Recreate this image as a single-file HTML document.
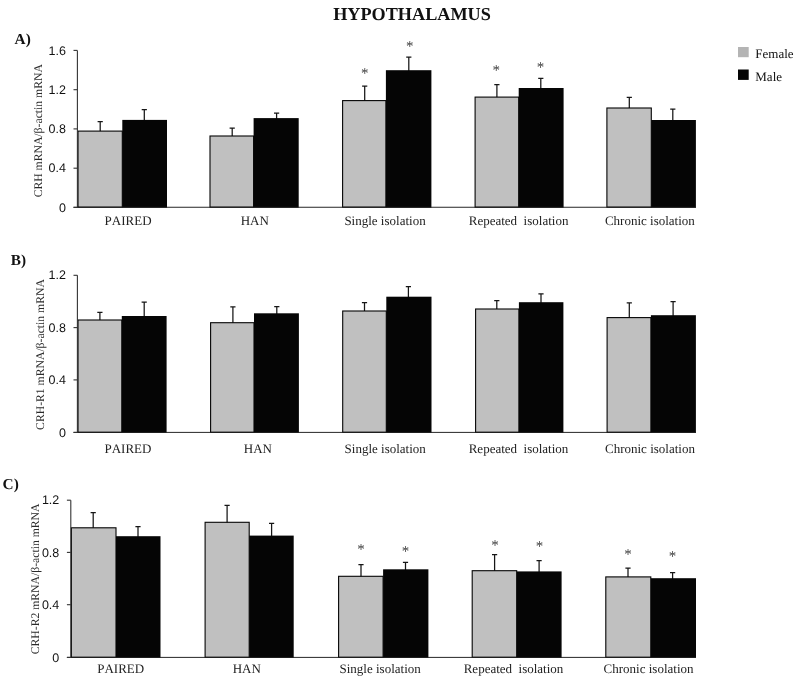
<!DOCTYPE html>
<html><head><meta charset="utf-8"><title>Hypothalamus</title>
<style>
html,body{margin:0;padding:0;background:#fff;}
body{width:800px;height:683px;overflow:hidden;font-family:"Liberation Serif",serif;}
svg{display:block;will-change:transform;filter:grayscale(1);}
text{font-kerning:none;font-variant-ligatures:none;text-rendering:geometricPrecision;}
.cat{font-family:"Liberation Serif",serif;font-size:13px;fill:#222;}
.tick{font-family:"Liberation Sans",sans-serif;font-size:12.5px;fill:#111;}
.ylab{font-family:"Liberation Serif",serif;font-size:11.7px;fill:#2a2a2a;}
.tag{font-family:"Liberation Serif",serif;font-size:15.3px;font-weight:bold;fill:#111;}
.title{font-family:"Liberation Serif",serif;font-size:18.2px;font-weight:bold;fill:#111;}
.ast{font-family:"Liberation Serif",serif;font-size:15.0px;fill:#3a3a3a;}
.leg{font-family:"Liberation Serif",serif;font-size:13px;fill:#111;}
</style></head><body>
<svg width="800" height="683" viewBox="0 0 800 683">
<rect width="800" height="683" fill="#ffffff"/>
<text class="title" x="333.2" y="19.8">HYPOTHALAMUS</text>
<rect x="738" y="47" width="10.7" height="10.2" fill="#b4b4b4"/>
<rect x="738" y="69.5" width="10.7" height="10.4" fill="#050505"/>
<text class="leg" x="755.3" y="57.9">Female</text>
<text class="leg" x="755.3" y="80.9">Male</text>

<g id="panelA">
<path d="M100.20 131.8V121.60M97.60 121.60H102.80" stroke="#161616" stroke-width="1.25" fill="none"/>
<path d="M144.30 120.9V109.70M141.70 109.70H146.90" stroke="#161616" stroke-width="1.25" fill="none"/>
<rect x="78.00" y="131.10" width="44.30" height="76.05" fill="#c0c0c0" stroke="#050505" stroke-width="1.1"/>
<rect x="122.30" y="119.90" width="44.70" height="87.80" fill="#050505"/>
<path d="M232.20 136.7V128.10M229.60 128.10H234.80" stroke="#161616" stroke-width="1.25" fill="none"/>
<path d="M276.60 119.1V113.00M274.00 113.00H279.20" stroke="#161616" stroke-width="1.25" fill="none"/>
<rect x="210.00" y="136.00" width="43.60" height="71.15" fill="#c0c0c0" stroke="#050505" stroke-width="1.1"/>
<rect x="253.60" y="118.10" width="45.10" height="89.60" fill="#050505"/>
<path d="M364.70 101.3V86.20M362.10 86.20H367.30" stroke="#161616" stroke-width="1.25" fill="none"/>
<path d="M408.80 71.2V57.20M406.20 57.20H411.40" stroke="#161616" stroke-width="1.25" fill="none"/>
<rect x="342.60" y="100.60" width="43.30" height="106.55" fill="#c0c0c0" stroke="#050505" stroke-width="1.1"/>
<rect x="385.90" y="70.20" width="45.50" height="137.50" fill="#050505"/>
<text class="ast" text-anchor="middle" x="364.80" y="78.34">*</text>
<text class="ast" text-anchor="middle" x="409.80" y="51.24">*</text>
<path d="M496.90 97.8V84.50M494.30 84.50H499.50" stroke="#161616" stroke-width="1.25" fill="none"/>
<path d="M540.80 89.0V78.30M538.20 78.30H543.40" stroke="#161616" stroke-width="1.25" fill="none"/>
<rect x="475.10" y="97.10" width="43.60" height="110.05" fill="#c0c0c0" stroke="#050505" stroke-width="1.1"/>
<rect x="518.70" y="88.00" width="44.90" height="119.70" fill="#050505"/>
<text class="ast" text-anchor="middle" x="496.30" y="74.74">*</text>
<text class="ast" text-anchor="middle" x="540.50" y="72.44">*</text>
<path d="M629.30 108.7V97.40M626.70 97.40H631.90" stroke="#161616" stroke-width="1.25" fill="none"/>
<path d="M672.80 121.0V109.20M670.20 109.20H675.40" stroke="#161616" stroke-width="1.25" fill="none"/>
<rect x="606.90" y="108.00" width="44.40" height="99.15" fill="#c0c0c0" stroke="#050505" stroke-width="1.1"/>
<rect x="651.30" y="120.00" width="44.60" height="87.70" fill="#050505"/>
<path d="M77.4 50.4V207.4" stroke="#333" stroke-width="1.1" fill="none"/>
<path d="M73.5 207.25H696" stroke="#1a1a1a" stroke-width="0.95" fill="none"/>
<path d="M73.5 207.4H77.4" stroke="#333" stroke-width="1.1" fill="none"/>
<text class="tick" text-anchor="end" x="65.9" y="211.55">0</text>
<path d="M73.5 168.2H77.4" stroke="#333" stroke-width="1.1" fill="none"/>
<text class="tick" text-anchor="end" x="65.9" y="172.35">0.4</text>
<path d="M73.5 128.9H77.4" stroke="#333" stroke-width="1.1" fill="none"/>
<text class="tick" text-anchor="end" x="65.9" y="133.05">0.8</text>
<path d="M73.5 89.7H77.4" stroke="#333" stroke-width="1.1" fill="none"/>
<text class="tick" text-anchor="end" x="65.9" y="93.85">1.2</text>
<path d="M73.5 50.4H77.4" stroke="#333" stroke-width="1.1" fill="none"/>
<text class="tick" text-anchor="end" x="65.9" y="54.55">1.6</text>
<text class="cat" x="104.60" y="225.2" xml:space="preserve">PAIRED</text>
<text class="cat" x="240.70" y="225.2" xml:space="preserve">HAN</text>
<text class="cat" x="344.40" y="225.2" xml:space="preserve">Single isolation</text>
<text class="cat" x="468.75" y="225.2" xml:space="preserve">Repeated  isolation</text>
<text class="cat" x="604.90" y="225.2" xml:space="preserve">Chronic isolation</text>
<text class="tag" x="14.6" y="44.0">A)</text>
<text class="ylab" text-anchor="middle" transform="translate(41.5 130.75) rotate(-90)">CRH mRNA/β-actin mRNA</text>
</g>
<g id="panelB">
<path d="M99.90 320.7V312.40M97.30 312.40H102.50" stroke="#161616" stroke-width="1.25" fill="none"/>
<path d="M144.20 317.0V302.00M141.60 302.00H146.80" stroke="#161616" stroke-width="1.25" fill="none"/>
<rect x="78.00" y="320.00" width="43.80" height="112.25" fill="#c0c0c0" stroke="#050505" stroke-width="1.1"/>
<rect x="121.80" y="316.00" width="44.80" height="116.80" fill="#050505"/>
<path d="M232.90 323.4V306.80M230.30 306.80H235.50" stroke="#161616" stroke-width="1.25" fill="none"/>
<path d="M276.80 314.3V306.50M274.20 306.50H279.40" stroke="#161616" stroke-width="1.25" fill="none"/>
<rect x="210.60" y="322.70" width="43.40" height="109.55" fill="#c0c0c0" stroke="#050505" stroke-width="1.1"/>
<rect x="254.00" y="313.30" width="44.90" height="119.50" fill="#050505"/>
<path d="M364.50 311.7V302.60M361.90 302.60H367.10" stroke="#161616" stroke-width="1.25" fill="none"/>
<path d="M408.40 297.7V286.60M405.80 286.60H411.00" stroke="#161616" stroke-width="1.25" fill="none"/>
<rect x="342.70" y="311.00" width="43.60" height="121.25" fill="#c0c0c0" stroke="#050505" stroke-width="1.1"/>
<rect x="386.30" y="296.70" width="45.20" height="136.10" fill="#050505"/>
<path d="M496.80 309.7V300.60M494.20 300.60H499.40" stroke="#161616" stroke-width="1.25" fill="none"/>
<path d="M541.00 303.2V293.80M538.40 293.80H543.60" stroke="#161616" stroke-width="1.25" fill="none"/>
<rect x="475.60" y="309.00" width="43.30" height="123.25" fill="#c0c0c0" stroke="#050505" stroke-width="1.1"/>
<rect x="518.90" y="302.20" width="44.50" height="130.60" fill="#050505"/>
<path d="M629.30 318.3V302.90M626.70 302.90H631.90" stroke="#161616" stroke-width="1.25" fill="none"/>
<path d="M673.10 316.2V301.70M670.50 301.70H675.70" stroke="#161616" stroke-width="1.25" fill="none"/>
<rect x="607.10" y="317.60" width="43.80" height="114.65" fill="#c0c0c0" stroke="#050505" stroke-width="1.1"/>
<rect x="650.90" y="315.20" width="45.00" height="117.60" fill="#050505"/>
<path d="M77.4 275.3V432.5" stroke="#333" stroke-width="1.1" fill="none"/>
<path d="M73.5 432.40H696" stroke="#1a1a1a" stroke-width="0.95" fill="none"/>
<path d="M73.5 432.4H77.4" stroke="#333" stroke-width="1.1" fill="none"/>
<text class="tick" text-anchor="end" x="65.9" y="436.55">0</text>
<path d="M73.5 379.9H77.4" stroke="#333" stroke-width="1.1" fill="none"/>
<text class="tick" text-anchor="end" x="65.9" y="384.05">0.4</text>
<path d="M73.5 327.6H77.4" stroke="#333" stroke-width="1.1" fill="none"/>
<text class="tick" text-anchor="end" x="65.9" y="331.75">0.8</text>
<path d="M73.5 275.3H77.4" stroke="#333" stroke-width="1.1" fill="none"/>
<text class="tick" text-anchor="end" x="65.9" y="279.45">1.2</text>
<text class="cat" x="104.50" y="453.0" xml:space="preserve">PAIRED</text>
<text class="cat" x="243.80" y="453.0" xml:space="preserve">HAN</text>
<text class="cat" x="344.55" y="453.0" xml:space="preserve">Single isolation</text>
<text class="cat" x="468.70" y="453.0" xml:space="preserve">Repeated  isolation</text>
<text class="cat" x="605.00" y="453.0" xml:space="preserve">Chronic isolation</text>
<text class="tag" x="10.8" y="264.8">B)</text>
<text class="ylab" text-anchor="middle" transform="translate(43.7 354.50) rotate(-90)">CRH-R1 mRNA/β-actin mRNA</text>
</g>
<g id="panelC">
<path d="M93.20 528.5V512.60M90.60 512.60H95.80" stroke="#161616" stroke-width="1.25" fill="none"/>
<path d="M138.00 537.2V526.60M135.40 526.60H140.60" stroke="#161616" stroke-width="1.25" fill="none"/>
<rect x="71.40" y="527.80" width="44.60" height="129.45" fill="#c0c0c0" stroke="#050505" stroke-width="1.1"/>
<rect x="116.00" y="536.20" width="44.50" height="121.60" fill="#050505"/>
<path d="M227.10 523.0V505.40M224.50 505.40H229.70" stroke="#161616" stroke-width="1.25" fill="none"/>
<path d="M271.60 536.6V523.30M269.00 523.30H274.20" stroke="#161616" stroke-width="1.25" fill="none"/>
<rect x="205.10" y="522.30" width="44.10" height="134.95" fill="#c0c0c0" stroke="#050505" stroke-width="1.1"/>
<rect x="249.20" y="535.60" width="44.50" height="122.20" fill="#050505"/>
<path d="M361.00 577.0V564.60M358.40 564.60H363.60" stroke="#161616" stroke-width="1.25" fill="none"/>
<path d="M405.50 570.3V562.30M402.90 562.30H408.10" stroke="#161616" stroke-width="1.25" fill="none"/>
<rect x="338.60" y="576.30" width="44.50" height="80.95" fill="#c0c0c0" stroke="#050505" stroke-width="1.1"/>
<rect x="383.10" y="569.30" width="45.30" height="88.50" fill="#050505"/>
<text class="ast" text-anchor="middle" x="361.00" y="553.74">*</text>
<text class="ast" text-anchor="middle" x="405.50" y="556.04">*</text>
<path d="M494.60 571.4V554.50M492.00 554.50H497.20" stroke="#161616" stroke-width="1.25" fill="none"/>
<path d="M539.10 572.4V560.70M536.50 560.70H541.70" stroke="#161616" stroke-width="1.25" fill="none"/>
<rect x="472.20" y="570.70" width="44.50" height="86.55" fill="#c0c0c0" stroke="#050505" stroke-width="1.1"/>
<rect x="516.70" y="571.40" width="44.90" height="86.40" fill="#050505"/>
<text class="ast" text-anchor="middle" x="494.90" y="549.54">*</text>
<text class="ast" text-anchor="middle" x="539.40" y="551.44">*</text>
<path d="M628.00 577.6V568.10M625.40 568.10H630.60" stroke="#161616" stroke-width="1.25" fill="none"/>
<path d="M672.60 579.2V572.70M670.00 572.70H675.20" stroke="#161616" stroke-width="1.25" fill="none"/>
<rect x="605.80" y="576.90" width="45.00" height="80.35" fill="#c0c0c0" stroke="#050505" stroke-width="1.1"/>
<rect x="650.80" y="578.20" width="45.20" height="79.60" fill="#050505"/>
<text class="ast" text-anchor="middle" x="628.00" y="559.24">*</text>
<text class="ast" text-anchor="middle" x="672.60" y="561.24">*</text>
<path d="M70.8 500.2V657.5" stroke="#333" stroke-width="1.1" fill="none"/>
<path d="M66.9 657.40H696" stroke="#1a1a1a" stroke-width="0.95" fill="none"/>
<path d="M66.9 657.4H70.8" stroke="#333" stroke-width="1.1" fill="none"/>
<text class="tick" text-anchor="end" x="59.3" y="661.55">0</text>
<path d="M66.9 604.7H70.8" stroke="#333" stroke-width="1.1" fill="none"/>
<text class="tick" text-anchor="end" x="59.3" y="608.85">0.4</text>
<path d="M66.9 552.4H70.8" stroke="#333" stroke-width="1.1" fill="none"/>
<text class="tick" text-anchor="end" x="59.3" y="556.55">0.8</text>
<path d="M66.9 500.2H70.8" stroke="#333" stroke-width="1.1" fill="none"/>
<text class="tick" text-anchor="end" x="59.3" y="504.35">1.2</text>
<text class="cat" x="97.20" y="672.7" xml:space="preserve">PAIRED</text>
<text class="cat" x="232.70" y="672.7" xml:space="preserve">HAN</text>
<text class="cat" x="339.50" y="672.7" xml:space="preserve">Single isolation</text>
<text class="cat" x="463.70" y="672.7" xml:space="preserve">Repeated  isolation</text>
<text class="cat" x="603.60" y="672.7" xml:space="preserve">Chronic isolation</text>
<text class="tag" x="2.6" y="489.4">C)</text>
<text class="ylab" text-anchor="middle" transform="translate(38.9 578.90) rotate(-90)">CRH-R2 mRNA/β-actin mRNA</text>
</g>
</svg></body></html>
